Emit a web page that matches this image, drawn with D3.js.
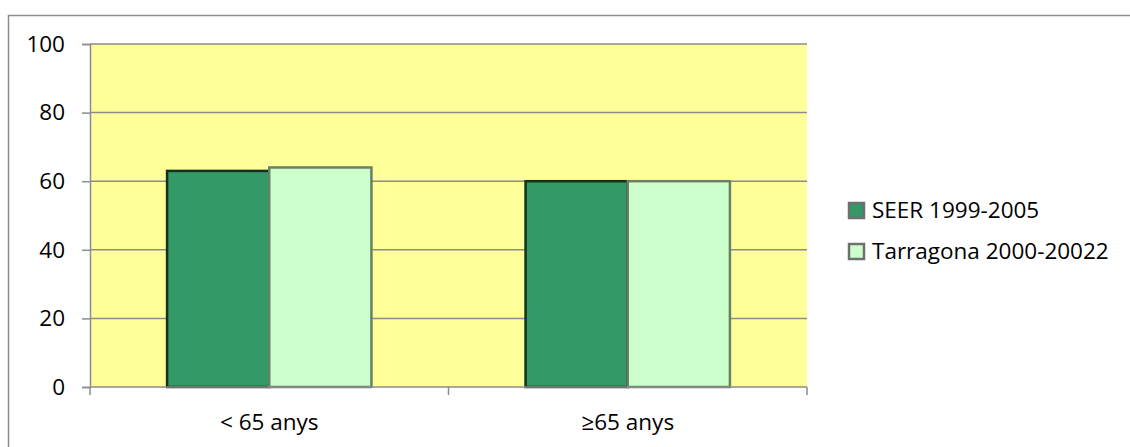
<html>
<head>
<meta charset="utf-8">
<title>Grouped Bar Chart</title>
<script src="https://d3js.org/d3.v7.min.js"></script>
<style>
  body { margin: 0; background: #fff; }
  text { font-family: "Open Sans", "Liberation Sans", sans-serif; fill: #000; }
</style>
</head>
<body>
<svg width="1130" height="447"></svg>
<script>
var categories = ["< 65 anys", "≥65 anys"];
var seriesNames = ["SEER 1999-2005", "Tarragona 2000-20022"];
var seer = [63, 60];
var tarragona = [64, 60];
var yTicks = [0, 20, 40, 60, 80, 100];

var colors = ["#339966", "#CCFFCC"];
var strokes = ["#14301f", "#6a7f6a"];
var fontSize = "22.5px";

var svg = d3.select("svg"),
    margin = {top: 44, right: 323, bottom: 60, left: 90},
    width = 1130 - margin.left - margin.right,
    height = 447 - margin.top - margin.bottom;

// outer chart frame
svg.append("rect")
  .attr("x", 8.5).attr("y", 15.5)
  .attr("width", 1140).attr("height", 460)
  .attr("fill", "none").attr("stroke", "#8c8c8c").attr("stroke-width", 1.5);

var g = svg.append("g").attr("transform", `translate(${margin.left},${margin.top})`);

var x = d3.scaleBand().domain(categories).range([0, width]);
var xIn = d3.scaleBand().domain(seriesNames)
  .range([x.bandwidth() * 0.215, x.bandwidth() * 0.785]);
var y = d3.scaleLinear().domain([0, 100]).range([height, 0]);

g.append("rect").attr("width", width).attr("height", height).attr("fill", "#FFFF99");

// gridlines
g.append("g").selectAll("line").data(yTicks.filter(d => d > 0)).enter().append("line")
  .attr("x1", 0).attr("x2", width)
  .attr("y1", d => y(d)).attr("y2", d => y(d))
  .attr("stroke", "#8c8c8c").attr("stroke-width", 1.5);

var data = categories.map((c, i) => ({cat: c, values: [seer[i], tarragona[i]]}));

g.selectAll(".grp").data(data).enter().append("g")
  .attr("class", "grp")
  .attr("transform", d => `translate(${x(d.cat)},0)`)
  .selectAll("rect")
  .data(d => d.values.map((v, k) => ({key: seriesNames[k], k: k, value: v})))
  .enter().append("rect")
    .attr("x", d => xIn(d.key))
    .attr("y", d => y(d.value))
    .attr("width", xIn.bandwidth())
    .attr("height", d => height - y(d.value))
    .attr("fill", d => colors[d.k])
    .attr("stroke", d => strokes[d.k])
    .attr("stroke-width", 2.5);

// y axis
var yAxis = g.append("g")
  .call(d3.axisLeft(y).tickValues(yTicks).tickSize(8).tickPadding(17));
yAxis.select(".domain").attr("stroke", "#8c8c8c").attr("stroke-width", 1.5);
yAxis.selectAll(".tick line").attr("stroke", "#8c8c8c").attr("stroke-width", 1.5);
yAxis.selectAll("text").style("font-size", fontSize)
  .style("font-family", "'Open Sans', sans-serif");

// x axis
var xAxisG = g.append("g").attr("transform", `translate(0,${height})`);
xAxisG.append("line").attr("x1", 0).attr("x2", width)
  .attr("stroke", "#8c8c8c").attr("stroke-width", 1.5);
xAxisG.selectAll(".xt").data([0].concat(categories.map(c => x(c) + x.bandwidth())))
  .enter().append("line")
  .attr("x1", d => d).attr("x2", d => d).attr("y1", 0).attr("y2", 8)
  .attr("stroke", "#8c8c8c").attr("stroke-width", 1.5);
xAxisG.selectAll("text").data(categories).enter().append("text")
  .attr("x", d => x(d) + x.bandwidth() / 2)
  .attr("y", 43)
  .attr("text-anchor", "middle")
  .style("font-size", fontSize)
  .text(d => d);

// legend
var legend = svg.append("g").selectAll("g").data(seriesNames).enter().append("g")
  .attr("transform", (d, i) => `translate(849,${203 + i * 41})`);
legend.append("rect").attr("width", 15).attr("height", 15)
  .attr("fill", (d, i) => colors[i]).attr("stroke", "#6f6f6f").attr("stroke-width", 2.5);
legend.append("text").attr("x", 23).attr("y", 15)
  .style("font-size", fontSize).text(d => d);
</script>
</body>
</html>
